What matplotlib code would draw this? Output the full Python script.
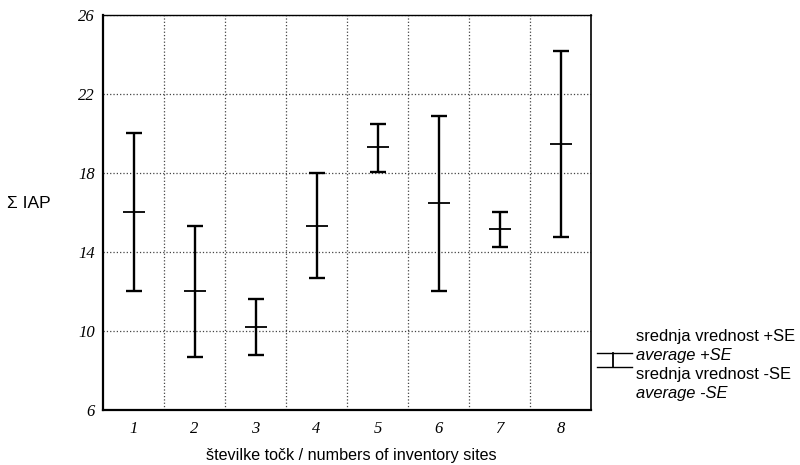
import matplotlib.pyplot as plt
from matplotlib.lines import Line2D

# inventory sites and IAP sums
sites = [1, 2, 3, 4, 5, 6, 7, 8]
mean_iap = [16.0, 12.0, 10.2, 15.3, 19.3, 16.5, 15.15, 19.45]
upper_se = [20.0, 15.3, 11.6, 18.0, 20.5, 20.9, 16.0, 24.2]
lower_se = [12.0, 8.7, 8.8, 12.7, 18.05, 12.0, 14.25, 14.75]

y_ticks = [6, 10, 14, 18, 22, 26]

W, H = 800, 465
fig = plt.figure(figsize=(8, 4.65), dpi=100)
ax = fig.add_axes([103 / W, 1 - 410 / H, (591 - 103) / W, (410 - 15) / H])

err_lo = [m - lo for m, lo in zip(mean_iap, lower_se)]
err_hi = [hi - m for m, hi in zip(mean_iap, upper_se)]
ax.errorbar(sites, mean_iap, yerr=[err_lo, err_hi], fmt='none', ecolor='black',
            elinewidth=1.7, capsize=5.8, capthick=1.7)
ax.plot(sites, mean_iap, linestyle='none', marker='_', markersize=16.5,
        markeredgewidth=1.3, color='black')

ax.set_xlim(0.5, 8.5)
ax.set_ylim(6, 26)
ax.set_xticks(sites)
ax.set_yticks(y_ticks)
ax.set_xticks([s + 0.5 for s in sites[:-1]], minor=True)
ax.grid(False)
ax.grid(True, which='minor', axis='x', linestyle=':', color='#444444', linewidth=0.9)
ax.grid(True, which='major', axis='y', linestyle=':', color='#444444', linewidth=0.9)
ax.tick_params(which='both', length=0)
ax.tick_params(axis='y', pad=6)
ax.tick_params(axis='x', pad=8)
for lab in ax.get_xticklabels() + ax.get_yticklabels():
    lab.set_fontfamily('Liberation Serif')
    lab.set_fontstyle('italic')
    lab.set_fontsize(12)

ax.spines['left'].set_linewidth(1.6)
ax.spines['bottom'].set_linewidth(1.6)
ax.spines['top'].set_linewidth(1.0)
ax.spines['right'].set_linewidth(1.2)

fig.text(7 / W, 1 - 203 / H, 'Σ IAP', fontsize=12.5, family='Liberation Sans',
         ha='left', va='center')
fig.text(351 / W, 1 - 455 / H, 'številke točk / numbers of inventory sites', fontsize=11.6,
         family='Liberation Sans', ha='center', va='center')

# legend symbol
fig.add_artist(Line2D([597 / W, 632 / W], [1 - 353 / H, 1 - 353 / H], color='black', lw=1.0))
fig.add_artist(Line2D([597 / W, 632 / W], [1 - 367 / H, 1 - 367 / H], color='black', lw=1.0))
fig.add_artist(Line2D([613 / W, 613 / W], [1 - 353 / H, 1 - 367 / H], color='black', lw=1.3))

legend_lines = [('srednja vrednost +SE', 'normal', 337),
                ('average +SE', 'italic', 355),
                ('srednja vrednost -SE', 'normal', 375),
                ('average -SE', 'italic', 393)]
for txt, style, yp in legend_lines:
    fig.text(636 / W, 1 - yp / H, txt, fontsize=11.9, family='Liberation Sans',
             style=style, ha='left', va='center')

fig.savefig('out.png', dpi=100)
